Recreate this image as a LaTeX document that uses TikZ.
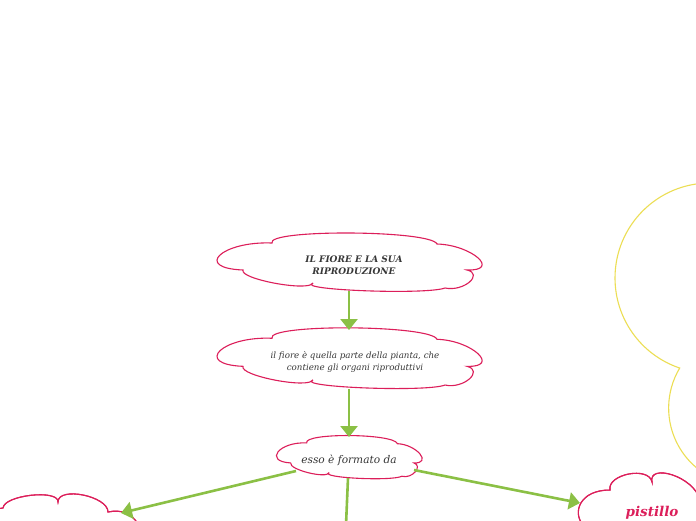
\documentclass[tikz,border=0pt]{standalone}
\usepackage{fontspec}
\setmainfont{DejaVu Serif}
\usetikzlibrary{arrows.meta}
\definecolor{cpink}{RGB}{220,30,90}
\definecolor{cgreen}{RGB}{139,192,69}
\definecolor{cyellow}{RGB}{236,222,84}
\definecolor{ctext}{RGB}{55,55,55}
\begin{document}
\begin{tikzpicture}[x=1pt,y=-1pt,
  cloudline/.style={draw=cpink, line width=1.1pt, fill=white},
  yline/.style={draw=cyellow, line width=1.1pt},
  link/.style={draw=cgreen, line width=2.6pt, -{Triangle[width=17pt,length=11pt]}},
  plainlink/.style={draw=cgreen, line width=2.6pt},
  cloudtext/.style={text=ctext, align=center, inner sep=0pt},
  cloudA/.pic={\path[cloudline] (-106,8) .. controls (-156,6) and (-127,-21) .. (-77,-19)
     .. controls (-83,-33) and (82,-32) .. (88,-18)
     .. controls (123,-17) and (152,9) .. (118,8)
     .. controls (135,12) and (115,30) .. (96,26)
     .. controls (77,33) and (-55,28) .. (-36,21)
     .. controls (-40,30) and (-110,17) .. cycle;}
]
\useasboundingbox (0,0) rectangle (696,520);
\clip (0,0) rectangle (696,520);
\fill[white] (0,0) rectangle (696,520);

% yellow cloud (partly visible)
\draw[yline] (710,183) arc[start angle=90, end angle=251.4, radius=95pt]
   arc[start angle=149.1, end angle=250, radius=77.9pt];

% clouds
\path (349,262) pic{cloudA};
\path (349,358) pic[yscale=1.04]{cloudA};
\path (349,457) pic[xscale=0.55,yscale=0.74]{cloudA};

% left cloud (cut off)
\path[cloudline] (-4,509) -- (3,508) .. controls (4,495) and (59,489) .. (58,502)
   .. controls (58,486) and (108,496) .. (108,512)
   .. controls (122,509) and (132,514) .. (138,524) -- (-4,524) -- cycle;
\draw[cpink, line width=1.1pt] (-4,509) -- (3,508) .. controls (4,495) and (59,489) .. (58,502)
   .. controls (58,486) and (108,496) .. (108,512)
   .. controls (122,509) and (132,514) .. (138,524);

% pistillo cloud (cut off)
\path[cloudline] (583,525) .. controls (572,512) and (580,490) .. (610,490)
   .. controls (607,474) and (649,466) .. (652,482)
   .. controls (648,463) and (694,476) .. (700,500) -- (700,525) -- cycle;
\draw[cpink, line width=1.1pt] (583,525) .. controls (572,512) and (580,490) .. (610,490)
   .. controls (607,474) and (649,466) .. (652,482)
   .. controls (648,463) and (694,476) .. (700,500);

% texts
\node[cloudtext, font=\fontsize{9}{12}\selectfont\bfseries\itshape] (n1) at (354,265)
  {IL FIORE E LA SUA\\RIPRODUZIONE};
\node[cloudtext, font=\fontsize{8.7}{12.5}\selectfont\itshape] (n2) at (355,362)
  {il fiore è quella parte della pianta, che\\contiene gli organi riproduttivi};
\node[cloudtext, font=\fontsize{10.6}{12}\selectfont\itshape] (n3) at (349,460)
  {esso è formato da};
\node[text=cpink, inner sep=0pt, font=\fontsize{13.5}{16}\selectfont\bfseries\itshape] (n5) at (652,513)
  {pistillo};

% connector end points
\coordinate (c1s) at (349,291);
\coordinate (c2n) at (349,330);
\coordinate (c2s) at (349,389);
\coordinate (c3n) at (349,437);
\coordinate (c3w) at (296,471);
\coordinate (c4e) at (121,513);
\coordinate (c3e) at (414,470);
\coordinate (c5w) at (580,503);
\coordinate (c3s) at (348,478);
\coordinate (c6n) at (346,525);

\draw[link] (c1s) -- (c2n);
\draw[link] (c2s) -- (c3n);
\draw[link] (c3w) -- (c4e);
\draw[link] (c3e) -- (c5w);
\draw[plainlink] (c3s) -- (c6n);
\end{tikzpicture}
\end{document}
